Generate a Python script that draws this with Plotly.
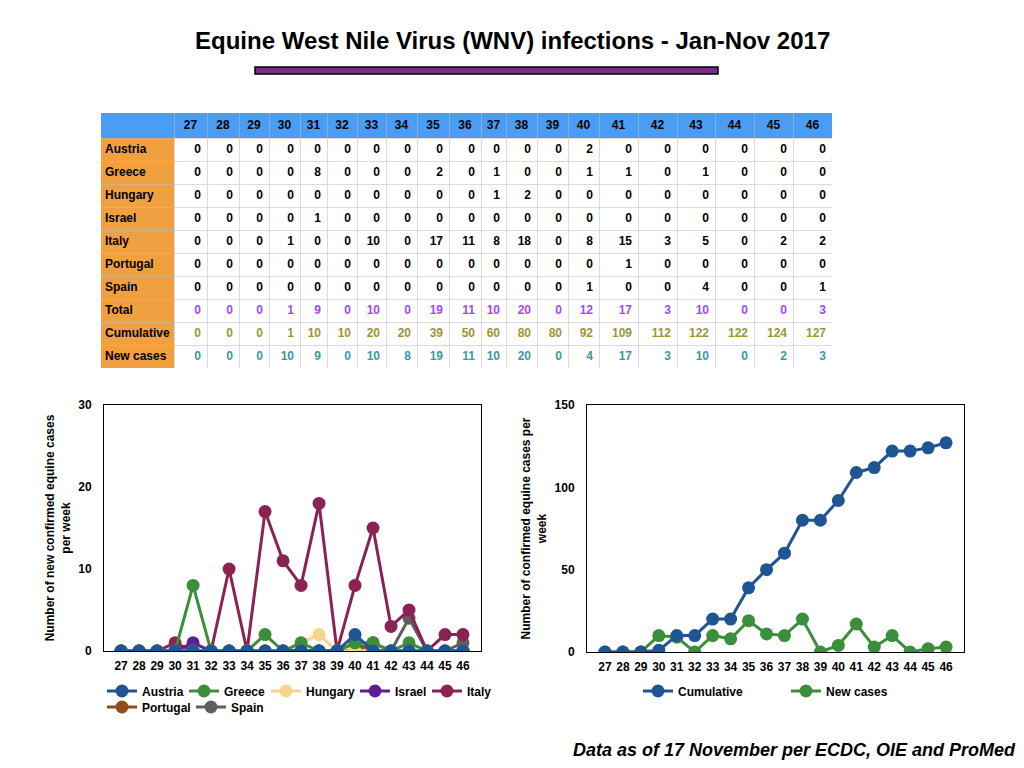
import plotly.graph_objects as go

weeks = list(range(27, 47))
countries = ["Austria", "Greece", "Hungary", "Israel", "Italy", "Portugal", "Spain"]

austria = [0, 0, 0, 0, 0, 0, 0, 0, 0, 0, 0, 0, 0, 2, 0, 0, 0, 0, 0, 0]
greece = [0, 0, 0, 0, 8, 0, 0, 0, 2, 0, 1, 0, 0, 1, 1, 0, 1, 0, 0, 0]
hungary = [0, 0, 0, 0, 0, 0, 0, 0, 0, 0, 1, 2, 0, 0, 0, 0, 0, 0, 0, 0]
israel = [0, 0, 0, 0, 1, 0, 0, 0, 0, 0, 0, 0, 0, 0, 0, 0, 0, 0, 0, 0]
italy = [0, 0, 0, 1, 0, 0, 10, 0, 17, 11, 8, 18, 0, 8, 15, 3, 5, 0, 2, 2]
portugal = [0, 0, 0, 0, 0, 0, 0, 0, 0, 0, 0, 0, 0, 0, 1, 0, 0, 0, 0, 0]
spain = [0, 0, 0, 0, 0, 0, 0, 0, 0, 0, 0, 0, 0, 1, 0, 0, 4, 0, 0, 1]
total = [0, 0, 0, 1, 9, 0, 10, 0, 19, 11, 10, 20, 0, 12, 17, 3, 10, 0, 0, 3]
cumulative = [0, 0, 0, 1, 10, 10, 20, 20, 39, 50, 60, 80, 80, 92, 109, 112, 122, 122, 124, 127]
new_cases = [0, 0, 0, 10, 9, 0, 10, 8, 19, 11, 10, 20, 0, 4, 17, 3, 10, 0, 2, 3]

country_values = [austria, greece, hungary, israel, italy, portugal, spain]
country_colors = ["#1f5592", "#3b8f3a", "#f8d58c", "#5a1f90", "#8a2353", "#8c4f1c", "#5e5e5e"]

FONT = "Liberation Sans, Arial, sans-serif"
W, H = 1024, 768


def px_x(v):
    return v / W


def px_y(v):
    return 1 - v / H


fig = go.Figure()

# ---------------- table (heatmap cells + text on its own axes) ----------------
row_labels = countries + ["Total", "Cumulative", "New cases"]
row_data = country_values + [total, cumulative, new_cases]
row_text_colors = ["black"] * 7 + ["#a347ff", "#9a9636", "#3a9a9c"]

col_widths = [73, 33, 32, 30, 31, 27, 30, 29, 31, 32, 32, 25, 31, 31, 31, 39, 39, 38, 39, 39, 39]
header_h, row_h = 25, 23
tbl_left, tbl_top = 101, 113

x_edges = [0]
for w in col_widths:
    x_edges.append(x_edges[-1] + w)
y_edges = [0, header_h]
for _ in row_labels:
    y_edges.append(y_edges[-1] + row_h)
tbl_w, tbl_h = x_edges[-1], y_edges[-1]

# 0 = white cell, 1 = orange label cell, 2 = blue header cell
z = [[2] * len(col_widths)]
for _ in row_labels:
    z.append([1] + [0] * len(weeks))

fig.add_trace(
    go.Heatmap(
        x=x_edges,
        y=y_edges,
        z=z,
        zmin=0,
        zmax=2,
        colorscale=[[0, "white"], [0.5, "#f0a040"], [1, "#4a9cf5"]],
        showscale=False,
        hoverinfo="skip",
        xaxis="x3",
        yaxis="y3",
    )
)

col_mid = [(x_edges[i] + x_edges[i + 1]) / 2 for i in range(len(col_widths))]
row_mid = [(y_edges[i] + y_edges[i + 1]) / 2 for i in range(len(y_edges) - 1)]

# header week numbers
fig.add_trace(
    go.Scatter(
        x=col_mid[1:],
        y=[row_mid[0]] * len(weeks),
        text=[str(w) for w in weeks],
        mode="text",
        textposition="middle center",
        textfont=dict(family=FONT, size=12, color="black", weight="bold"),
        hoverinfo="skip",
        showlegend=False,
        xaxis="x3",
        yaxis="y3",
    )
)
# row labels
fig.add_trace(
    go.Scatter(
        x=[x_edges[0] + 4] * len(row_labels),
        y=row_mid[1:],
        text=row_labels,
        mode="text",
        textposition="middle right",
        textfont=dict(family=FONT, size=12, color="black", weight="bold"),
        hoverinfo="skip",
        showlegend=False,
        xaxis="x3",
        yaxis="y3",
    )
)
# numbers, right aligned in each cell
cell_x, cell_y, cell_txt, cell_col = [], [], [], []
for r, row in enumerate(row_data):
    for c, v in enumerate(row):
        cell_x.append(x_edges[c + 2] - 6)
        cell_y.append(row_mid[r + 1])
        cell_txt.append(str(v))
        cell_col.append(row_text_colors[r])
fig.add_trace(
    go.Scatter(
        x=cell_x,
        y=cell_y,
        text=cell_txt,
        mode="text",
        textposition="middle left",
        textfont=dict(family=FONT, size=12, color=cell_col, weight="bold"),
        hoverinfo="skip",
        showlegend=False,
        xaxis="x3",
        yaxis="y3",
    )
)

# legend slot per entry: (legend id, marker x px, row y px)
legend_slots = {
    "Austria": ("legend", 121, 690),
    "Greece": ("legend2", 203, 690),
    "Hungary": ("legend3", 285, 690),
    "Israel": ("legend4", 374, 690),
    "Italy": ("legend5", 446, 690),
    "Portugal": ("legend6", 121, 706),
    "Spain": ("legend7", 210, 706),
    "Cumulative": ("legend8", 657, 690),
    "New cases": ("legend9", 805, 690),
}

# ---------------- left chart: per country ----------------
# drawn in reverse so Austria sits on top, like the original
for idx in reversed(range(len(countries))):
    fig.add_trace(
        go.Scatter(
            x=weeks,
            y=country_values[idx],
            name=countries[idx],
            mode="lines+markers",
            line=dict(color=country_colors[idx], width=3),
            marker=dict(color=country_colors[idx], size=13),
            xaxis="x",
            yaxis="y",
            legend=legend_slots[countries[idx]][0],
        )
    )

# ---------------- right chart: cumulative vs new ----------------
fig.add_trace(
    go.Scatter(
        x=weeks,
        y=new_cases,
        name="New cases",
        mode="lines+markers",
        line=dict(color="#3b8f3a", width=3),
        marker=dict(color="#3b8f3a", size=13),
        xaxis="x2",
        yaxis="y2",
        legend=legend_slots["New cases"][0],
    )
)
fig.add_trace(
    go.Scatter(
        x=weeks,
        y=cumulative,
        name="Cumulative",
        mode="lines+markers",
        line=dict(color="#1f5592", width=3),
        marker=dict(color="#1f5592", size=13),
        xaxis="x2",
        yaxis="y2",
        legend=legend_slots["Cumulative"][0],
    )
)

axis_common = dict(
    showline=True,
    mirror=True,
    linecolor="black",
    linewidth=1,
    showgrid=False,
    zeroline=False,
    automargin=False,
    ticks="",
    tickfont=dict(family=FONT, size=12, color="black", weight="bold"),
)
ytitle_font = dict(family=FONT, size=12, color="black", weight="bold")

layout_legends = {}
for name, (lid, mx, my) in legend_slots.items():
    layout_legends[lid] = dict(
        orientation="h",
        x=px_x(mx - 19),
        xanchor="left",
        y=px_y(my + 1),
        yanchor="middle",
        font=dict(family=FONT, size=12, color="black", weight="bold"),
        bgcolor="rgba(0,0,0,0)",
    )

grid_color = "rgba(190,190,190,0.55)"
table_axis = dict(
    showgrid=False,
    zeroline=False,
    showline=False,
    showticklabels=False,
    automargin=False,
    ticks="inside",
    tickcolor=grid_color,
    tickwidth=1,
    layer="above traces",
    fixedrange=True,
)

fig.update_layout(
    width=W,
    height=H,
    margin=dict(l=0, r=0, t=0, b=0),
    paper_bgcolor="white",
    plot_bgcolor="white",
    font=dict(family=FONT, color="black"),
    xaxis=dict(
        domain=[px_x(104), px_x(481)],
        anchor="y",
        range=[26.05, 47],
        tickvals=weeks,
        ticklabelstandoff=4,
        **axis_common,
    ),
    yaxis=dict(
        domain=[px_y(651), px_y(405)],
        anchor="x",
        range=[0, 30],
        tickvals=[0, 10, 20, 30],
        ticklabelstandoff=9,
        title=dict(
            text="Number of new confirmed equine cases<br>per week",
            font=ytitle_font,
            standoff=5,
        ),
        **axis_common,
    ),
    xaxis2=dict(
        domain=[px_x(587), px_x(964)],
        anchor="y2",
        range=[26, 47],
        tickvals=weeks,
        ticklabelstandoff=4,
        **axis_common,
    ),
    yaxis2=dict(
        domain=[px_y(652), px_y(405)],
        anchor="x2",
        range=[0, 150],
        tickvals=[0, 50, 100, 150],
        ticklabelstandoff=9,
        title=dict(
            text="Number of confirmed equine cases per<br>week",
            font=ytitle_font,
            standoff=5,
        ),
        **axis_common,
    ),
    # table axes: one unit = one pixel; inside ticks used as the grid lines
    xaxis3=dict(
        domain=[px_x(tbl_left), px_x(tbl_left + tbl_w)],
        anchor="y3",
        range=[0, tbl_w],
        tickvals=x_edges,
        ticklen=tbl_h,
        **table_axis,
    ),
    yaxis3=dict(
        domain=[px_y(tbl_top + tbl_h), px_y(tbl_top)],
        anchor="x3",
        range=[tbl_h, 0],
        tickvals=y_edges,
        ticklen=tbl_w,
        **table_axis,
    ),
    **layout_legends,
)

# title with the purple bar underneath
fig.add_annotation(
    text="<b>Equine West Nile Virus (WNV) infections - Jan-Nov 2017</b>",
    x=0.5,
    y=px_y(41),
    xref="paper",
    yref="paper",
    yanchor="middle",
    showarrow=False,
    font=dict(family=FONT, size=24, color="black"),
)
fig.add_shape(
    type="rect",
    xref="paper",
    yref="paper",
    x0=px_x(255),
    x1=px_x(718),
    y0=px_y(74),
    y1=px_y(67),
    fillcolor="#7b2a86",
    line=dict(color="black", width=1.5),
)

fig.add_annotation(
    text="<b><i>Data as of 17 November per ECDC, OIE and ProMed</i></b>",
    x=px_x(1018),
    y=px_y(750),
    xref="paper",
    yref="paper",
    xanchor="right",
    yanchor="middle",
    showarrow=False,
    font=dict(family=FONT, size=18, color="black"),
)

fig.write_html(
    "out.html",
    config={"displayModeBar": False},
    post_script="document.body.style.margin='0';",
)
